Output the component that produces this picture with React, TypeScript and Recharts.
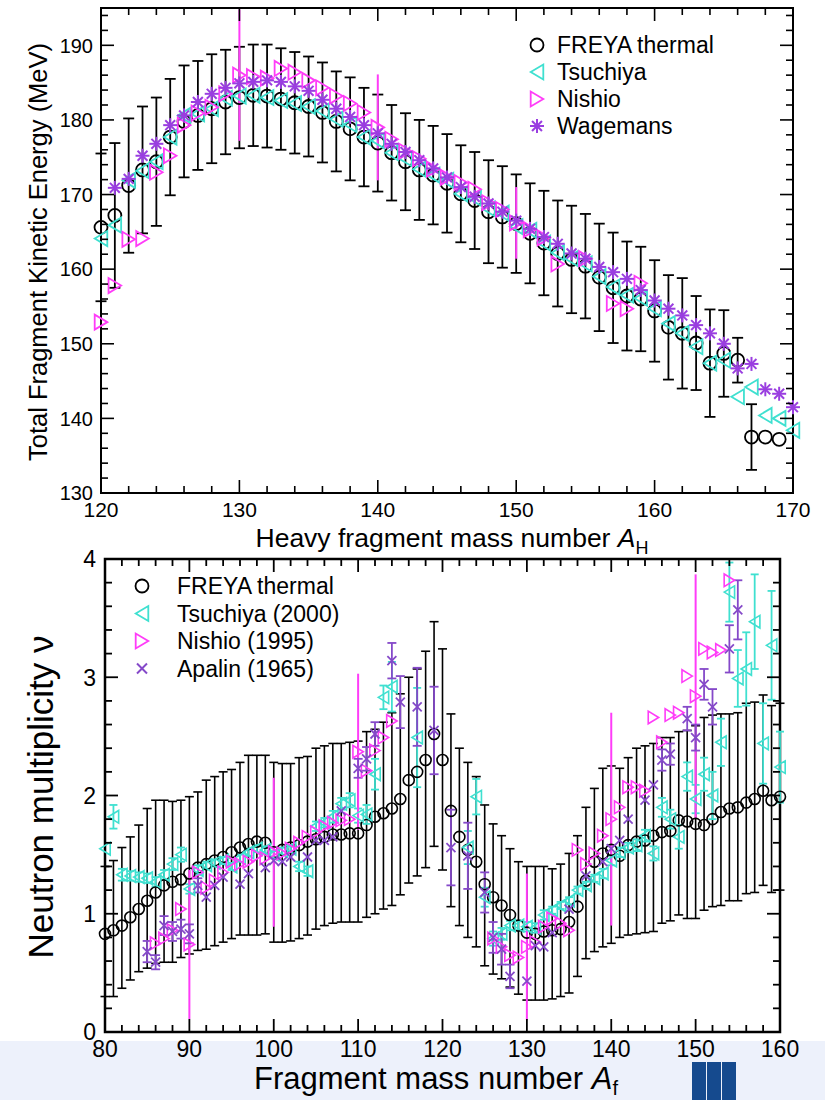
import React from "react";
import { ScatterChart, Scatter, XAxis, YAxis, ErrorBar, ReferenceArea } from "recharts";

const range = (from: number, to: number, step = 1) => {
  const out: number[] = [];
  for (let i = 0; from + i * step <= to + 1e-9; i++) out.push(+(from + i * step).toFixed(2));
  return out;
};

// ---------- top panel: total fragment kinetic energy vs heavy fragment mass ----------
const heavyMass = range(120, 169);
const freyaTke = [
  165.6, 167.2, 171.2, 173.3, 174.4, 177.7, 179.8, 180.6, 181.5, 182.4,
  183.0, 183.3, 183.2, 182.8, 182.3, 181.8, 181.0, 179.8, 178.8, 177.7,
  176.9, 175.6, 174.4, 173.3, 172.6, 171.5, 170.1, 169.2, 167.7, 167.0,
  166.1, 164.8, 163.5, 162.1, 161.3, 160.4, 158.9, 157.5, 156.4, 156.0,
  154.4, 152.2, 151.4, 150.1, 147.4, 148.7, 147.8, 137.5, 137.5, 137.2,
];
const freyaTkeErr = [
  9.9, 9.7, 9.0, 8.5, 8.6, 7.8, 7.5, 7.3, 7.3, 7.0,
  6.8, 6.8, 6.9, 6.8, 6.8, 6.7, 6.7, 6.7, 6.9, 6.6,
  6.5, 6.4, 6.5, 6.7, 6.6, 6.6, 6.5, 6.5, 6.9, 6.8,
  6.6, 6.7, 7.0, 7.1, 7.2, 7.0, 7.2, 7.4, 7.3, 7.0,
  6.8, 7.0, 7.4, 6.3, 7.2, 5.8, 3.0, 4.4, 0, 0,
];

const tsuchiyaTkeMass = range(120, 170);
const tsuchiyaTke = [
  164.1, 165.9, 171.9, 173.2, 174.4, 177.7, 180.6, 180.8, 181.5, 182.9,
  183.2, 183.3, 183.0, 182.6, 182.2, 181.8, 181.2, 180.1, 179.4, 177.7,
  177.2, 175.6, 174.8, 173.4, 172.6, 171.9, 170.1, 169.5, 168.1, 167.5,
  165.7, 165.2, 163.5, 162.2, 161.4, 160.7, 159.0, 157.6, 156.5, 156.1,
  154.7, 152.7, 151.4, 149.6, 147.4, 147.8, 142.9, 144.2, 140.4, 140.0,
  138.4,
];

const nishioTkeMass = [...range(120, 153), 155, 157, 158, 159];
const nishioTke = [
  152.9, 157.8, 164.0, 164.1, 173.0, 175.2, 179.3, 180.9, 181.7, 183.5,
  186.0, 185.8, 185.6, 186.9, 186.4, 185.3, 184.3, 183.2, 182.2, 181.0,
  179.0, 177.4, 175.8, 174.8, 173.4, 172.3, 171.6, 170.7, 168.9, 168.0,
  166.2, 165.3, 164.2, 160.7, 161.4, 155.4, 154.7, 158.1,
];
const nishioTkeBarMass = [130, 140, 150];
const nishioTkeBarErr = [8.8, 7.1, 4.8];

const wagemansTkeMass = range(121, 170);
const wagemansTke = [
  170.9, 172.1, 175.2, 176.8, 179.3, 180.6, 182.4, 183.5, 184.3,
  184.9, 185.1, 185.3, 185.1, 184.5, 183.9, 182.7, 181.5, 180.4, 179.3,
  178.2, 176.8, 175.7, 174.6, 173.5, 172.3, 171.0, 169.7, 168.8, 167.7,
  166.5, 165.4, 164.3, 163.4, 162.1, 161.4, 160.3, 159.6, 158.7, 157.2,
  155.8, 154.7, 153.8, 152.5, 151.4, 150.0, 146.7, 147.3, 143.9, 143.3,
  141.5,
];

const topXTicks = range(120, 170, 2);
const topYTicks = range(130, 194, 2);
const topLegend = ["FREYA thermal", "Tsuchiya", "Nishio", "Wagemans"];

// ---------- bottom panel: neutron multiplicity vs fragment mass ----------
const fragMass = range(80, 160);
const freyaNu = [
  0.83, 0.86, 0.90, 0.97, 1.04, 1.11, 1.18, 1.24, 1.27, 1.29,
  1.34, 1.39, 1.42, 1.45, 1.48, 1.52, 1.56, 1.59, 1.61, 1.60,
  1.52, 1.54, 1.56, 1.58, 1.61, 1.63, 1.65, 1.67, 1.67, 1.68,
  1.68, 1.75, 1.82, 1.85, 1.89, 1.97, 2.13, 2.20, 2.30, 2.52,
  2.30, 1.87, 1.65, 1.54, 1.44, 1.25, 1.14, 1.07, 0.99, 0.90,
  0.84, 0.83, 0.85, 0.86, 0.87, 0.93, 1.06, 1.28, 1.44, 1.51,
  1.54, 1.49, 1.58, 1.61, 1.62, 1.66, 1.69, 1.70, 1.79, 1.78,
  1.76, 1.75, 1.80, 1.86, 1.89, 1.90, 1.94, 1.97, 2.04, 1.96,
  1.99,
];
const freyaNuHi = [
  1.40, 1.45, 1.56, 1.65, 1.75, 1.89, 1.96, 1.96, 1.95, 1.96,
  1.99, 2.03, 2.13, 2.16, 2.20, 2.22, 2.28, 2.34, 2.34, 2.34,
  2.28, 2.27, 2.27, 2.32, 2.33, 2.40, 2.42, 2.44, 2.44, 2.45,
  2.46, 2.54, 2.56, 2.62, 2.70, 2.86, 3.00, 3.07, 3.22, 3.47,
  3.24, 2.69, 2.40, 2.28, 2.16, 1.92, 1.76, 1.66, 1.55, 1.44,
  1.40, 1.40, 1.40, 1.38, 1.42, 1.51, 1.66, 1.90, 2.06, 2.23,
  2.25, 2.23, 2.32, 2.40, 2.42, 2.44, 2.49, 2.49, 2.54, 2.55,
  2.59, 2.66, 2.68, 2.69, 2.69, 2.70, 2.78, 2.79, 2.85, 2.76,
  2.78,
];
const freyaNuLo = [
  0.30, 0.30, 0.37, 0.44, 0.51, 0.54, 0.58, 0.59, 0.59, 0.63,
  0.66, 0.69, 0.70, 0.73, 0.76, 0.79, 0.82, 0.82, 0.82, 0.83,
  0.76, 0.76, 0.77, 0.79, 0.82, 0.87, 0.90, 0.92, 0.93, 0.93,
  0.93, 0.97, 1.00, 1.04, 1.07, 1.16, 1.26, 1.32, 1.39, 1.57,
  1.37, 1.06, 0.90, 0.80, 0.72, 0.56, 0.49, 0.45, 0.38, 0.32,
  0.27, 0.27, 0.27, 0.28, 0.30, 0.33, 0.47, 0.62, 0.68, 0.72,
  0.75, 0.80, 0.82, 0.83, 0.84, 0.85, 0.92, 0.94, 0.99, 0.96,
  0.96, 1.03, 1.06, 1.07, 1.11, 1.11, 1.17, 1.18, 1.24, 1.18,
  1.20,
];

const tsuchiyaNuMass = [...range(80, 114), 117, ...range(123, 160)];
const tsuchiyaNu = [
  1.55, 1.82, 1.33, 1.32, 1.31, 1.30, 1.27, 1.33, 1.42, 1.50,
  1.21, 1.37, 1.41, 1.43, 1.45, 1.40, 1.47, 1.52, 1.55, 1.54,
  1.50, 1.53, 1.55, 1.40, 1.36, 1.74, 1.77, 1.82, 1.93, 1.96,
  1.83, 1.84, 2.18, 2.83, 2.92,
  2.49,
  1.56, 1.99, 1.14, 0.79, 0.83, 0.90, 0.90,
  0.89, 0.88, 0.99, 1.03, 1.07, 1.11, 1.20, 1.24, 1.30, 1.34,
  1.45, 1.52, 1.56, 1.58, 1.66, 1.51, 1.90, 1.80, 1.65, 2.16,
  1.97, 2.18, 2.00, 2.45, 3.72, 2.99, 3.07, 3.47, 2.44, 3.27,
  2.24,
];
const tsuchiyaNuErr = [
  0, 0.10, 0.05, 0.04, 0.04, 0.04, 0.04, 0.04, 0.05, 0.06,
  0.04, 0.04, 0.03, 0.03, 0.03, 0.03, 0.03, 0.03, 0.03, 0.03,
  0.03, 0.03, 0.03, 0.04, 0.04, 0.04, 0.04, 0.05, 0.05, 0.06,
  0.06, 0.08, 0.13, 0.10, 0.21,
  0.42,
  0.14, 0.15, 0.08, 0.06, 0.05, 0.04, 0.04,
  0.04, 0.04, 0.04, 0.03, 0.03, 0.03, 0.03, 0.03, 0.03, 0.04,
  0.04, 0.04, 0.04, 0.05, 0.05, 0.06, 0.08, 0.08, 0.10, 0.12,
  0.12, 0.14, 0.20, 0.20, 0.25, 0.24, 0.31, 0.40, 0.34, 0.46,
  0.30,
];

const nishioNuMass = [...range(86, 114), ...range(126, 154)];
const nishioNu = [
  0.75, 0.79, 0.86, 1.04,
  0.74, 1.35, 1.22, 1.28, 1.35, 1.44, 1.42, 1.44, 1.49, 1.47,
  1.52, 1.51, 1.55, 1.60, 1.65, 1.69, 1.74, 1.77, 1.79, 1.80,
  2.37, 2.21, 2.38, 2.49, 2.63,
  0.79, 0.72, 0.65, 0.63,
  0.72, 0.76, 0.89, 0.96, 0.92, 0.86, 1.54, 1.42, 1.51, 1.66,
  1.80, 1.90, 2.07, 2.07, 2.04, 2.66, 2.45, 2.68, 2.70, 3.01,
  2.84, 3.24, 3.21, 3.23, 3.82,
];
const nishioNuBarMass = [90, 100, 110, 130, 140, 150];
const nishioNuBarErr = [0.63, 0.63, 0.66, 0.62, 0.9, 1.03];

const apalinNuMass = [
  85, 86, 87, 88, 89, 90, 91, 92, 93, 94, 96, 97, 99, 100, 101, 102, 104, 105, 106, 107,
  108, 110, 111, 112, 114, 115, 117, 119, 121, 123, 125, 126, 127, 128, 130, 131, 132, 133,
  135, 137, 139, 140, 141, 142, 144, 145, 146, 147, 149, 150, 151, 152, 154, 155,
];
const apalinNu = [
  0.68, 0.59, 0.90, 0.85, 0.87, 0.83, 1.24, 1.14, 1.24, 1.31, 1.25, 1.34, 1.39, 1.45, 1.44, 1.48, 1.48, 1.62, 1.62, 1.65,
  1.87, 2.23, 2.31, 2.52, 3.14, 2.79, 2.75, 2.55, 1.56, 1.49, 1.18, 0.80, 0.70, 0.47, 0.43, 0.73, 0.72, 0.84,
  1.04, 1.32, 1.44, 1.55, 1.62, 1.80, 1.96, 2.09, 2.30, 2.35, 2.65, 2.49, 2.94, 2.75, 3.24, 3.57,
];
const apalinNuErr = [
  0.09, 0.06, 0.08, 0.08, 0.08, 0.08, 0.06, 0, 0, 0, 0, 0, 0, 0, 0, 0, 0, 0, 0, 0,
  0, 0.08, 0.10, 0.10, 0.15, 0.22, 0.33, 0.37, 0.32, 0.28, 0.17, 0.13, 0.13, 0.10, 0, 0, 0, 0,
  0, 0, 0, 0, 0, 0, 0, 0, 0.09, 0.09, 0.10, 0.11, 0.13, 0.15, 0.20, 0.25,
];

const botXTicks = range(80, 160, 2);
const botYTicks = range(0, 4, 0.2);
const botLegend = ["FREYA thermal", "Tsuchiya (2000)", "Nishio (1995)", "Apalin (1965)"];

// ---------- styling ----------
const FONT = "'Liberation Sans', Arial, Helvetica, sans-serif";
const CYAN = "#3fe0d0";
const MAGENTA = "#ff3cf8";
const PURPLE_W = "#9a3ee0";
const PURPLE_A = "#8549c9";

const Ring = (r: number, sw: number) => (p: any) => (
  <circle cx={p.cx} cy={p.cy} r={r} fill="none" stroke="#000" strokeWidth={sw} />
);
const Tri = (hw: number, hh: number, dir: number, c: string, sw: number) => (p: any) => {
  const tip = p.cx - dir * hw;
  const back = p.cx + dir * hw;
  return (
    <polygon
      points={`${tip},${p.cy} ${back},${p.cy - hh} ${back},${p.cy + hh}`}
      fill="none"
      stroke={c}
      strokeWidth={sw}
    />
  );
};
const Star = (r: number, c: string, sw: number) => (p: any) => {
  const d = r * 0.7071;
  return (
    <g stroke={c} strokeWidth={sw}>
      <line x1={p.cx - r} y1={p.cy} x2={p.cx + r} y2={p.cy} />
      <line x1={p.cx} y1={p.cy - r} x2={p.cx} y2={p.cy + r} />
      <line x1={p.cx - d} y1={p.cy - d} x2={p.cx + d} y2={p.cy + d} />
      <line x1={p.cx - d} y1={p.cy + d} x2={p.cx + d} y2={p.cy - d} />
    </g>
  );
};
const Cross = (r: number, c: string, sw: number) => (p: any) => (
  <g stroke={c} strokeWidth={sw}>
    <line x1={p.cx - r} y1={p.cy - r} x2={p.cx + r} y2={p.cy + r} />
    <line x1={p.cx - r} y1={p.cy + r} x2={p.cx + r} y2={p.cy - r} />
  </g>
);

type TickOpts = {
  span: number; // plot height (x ticks) or width (y ticks), to mirror ticks on the far side
  fs: number;
  off: number;
  major: (v: number) => boolean;
  len: [number, number];
  sw: number;
};

const XTick = (o: TickOpts) => (p: any) => {
  const v = p.payload.value;
  const m = o.major(v);
  const len = m ? o.len[0] : o.len[1];
  return (
    <g>
      <line x1={p.x} y1={p.y} x2={p.x} y2={p.y - len} stroke="#000" strokeWidth={o.sw} />
      <line x1={p.x} y1={p.y - o.span} x2={p.x} y2={p.y - o.span + len} stroke="#000" strokeWidth={o.sw} />
      {m && (
        <text x={p.x} y={p.y + o.off} textAnchor="middle" fontSize={o.fs} fontFamily={FONT} fill="#000">
          {v}
        </text>
      )}
    </g>
  );
};

const YTick = (o: TickOpts) => (p: any) => {
  const v = p.payload.value;
  const m = o.major(v);
  const len = m ? o.len[0] : o.len[1];
  return (
    <g>
      <line x1={p.x} y1={p.y} x2={p.x + len} y2={p.y} stroke="#000" strokeWidth={o.sw} />
      <line x1={p.x + o.span} y1={p.y} x2={p.x + o.span - len} y2={p.y} stroke="#000" strokeWidth={o.sw} />
      {m && (
        <text x={p.x - o.off} y={p.y} dy="0.36em" textAnchor="end" fontSize={o.fs} fontFamily={FONT} fill="#000">
          {v}
        </text>
      )}
    </g>
  );
};

const withBars = (mass: number[], vals: number[], barMass: number[], barErr: number[]) =>
  mass.map((x, i) => ({ x, y: vals[i], e: barErr[barMass.indexOf(x)] ?? 0 }));

export default function App() {
  // top panel series
  const tFreya = heavyMass.map((x, i) => ({ x, y: freyaTke[i], e: freyaTkeErr[i] }));
  const tTsu = tsuchiyaTkeMass.map((x, i) => ({ x, y: tsuchiyaTke[i] }));
  const tNis = withBars(nishioTkeMass, nishioTke, nishioTkeBarMass, nishioTkeBarErr);
  const tWag = wagemansTkeMass.map((x, i) => ({ x, y: wagemansTke[i] }));

  // bottom panel series
  const bFreya = fragMass.map((x, i) => ({
    x,
    y: freyaNu[i],
    e: [+(freyaNu[i] - freyaNuLo[i]).toFixed(3), +(freyaNuHi[i] - freyaNu[i]).toFixed(3)],
  }));
  const bTsu = tsuchiyaNuMass.map((x, i) => ({ x, y: tsuchiyaNu[i], e: tsuchiyaNuErr[i] }));
  const bNis = withBars(nishioNuMass, nishioNu, nishioNuBarMass, nishioNuBarErr);
  const bApa = apalinNuMass.map((x, i) => ({ x, y: apalinNu[i], e: apalinNuErr[i] }));

  const topLegendShapes = [Ring(6.5, 1.8), Tri(6.3, 7.5, 1, CYAN, 1.8), Tri(6.3, 7.5, -1, MAGENTA, 1.8), Star(7, PURPLE_W, 2)];
  const botLegendShapes = [Ring(6.5, 1.8), Tri(6.3, 7.5, 1, CYAN, 1.8), Tri(6.3, 7.5, -1, MAGENTA, 1.8), Cross(5, PURPLE_A, 2)];

  return (
    <div style={{ position: "relative", width: 825, height: 1100, background: "#fff", fontFamily: FONT, overflow: "hidden" }}>
      <style>{"body{margin:0}"}</style>
      {/* slide footer band and logo */}
      <div style={{ position: "absolute", left: 0, top: 1041, width: 825, height: 59, background: "#edf1fb" }} />
      {[692, 707, 722].map((l) => (
        <div key={l} style={{ position: "absolute", left: l, top: 1062, width: 14, height: 38, background: "#154a8e" }} />
      ))}

      {/* top panel */}
      <div style={{ position: "absolute", left: 0, top: 0 }}>
        <ScatterChart width={825} height={550} margin={{ top: 8, right: 32, bottom: 0, left: 0 }}>
          <XAxis
            type="number"
            dataKey="x"
            domain={[120, 170]}
            ticks={topXTicks}
            interval={0}
            height={57}
            axisLine={false}
            tickLine={false}
            tickSize={0}
            tickMargin={0}
            tick={XTick({ span: 485, fs: 21, off: 24, major: (v) => v % 10 === 0, len: [13, 7], sw: 1.6 })}
          />
          <YAxis
            type="number"
            dataKey="y"
            domain={[130, 195]}
            ticks={topYTicks}
            interval={0}
            width={101}
            axisLine={false}
            tickLine={false}
            tickSize={0}
            tickMargin={0}
            tick={YTick({ span: 692, fs: 20, off: 8, major: (v) => v % 10 === 0, len: [13, 7], sw: 1.6 })}
          />
          <ReferenceArea x1={120} x2={170} y1={130} y2={195} fill="none" fillOpacity={0} stroke="#000" strokeWidth={2} />
          <Scatter data={tFreya} shape={Ring(6.5, 1.8)} isAnimationActive={false}>
            <ErrorBar dataKey="e" direction="y" width={5.5} stroke="#000" strokeWidth={1.8} isAnimationActive={false} />
          </Scatter>
          <Scatter data={tTsu} shape={Tri(6.3, 7.5, 1, CYAN, 1.8)} isAnimationActive={false} />
          <Scatter data={tNis} shape={Tri(6.3, 7.5, -1, MAGENTA, 1.8)} isAnimationActive={false}>
            <ErrorBar dataKey="e" direction="y" width={0} stroke={MAGENTA} strokeWidth={2} isAnimationActive={false} />
          </Scatter>
          <Scatter data={tWag} shape={Star(7, PURPLE_W, 2)} isAnimationActive={false} />
        </ScatterChart>
      </div>

      {/* bottom panel */}
      <div style={{ position: "absolute", left: 0, top: 540 }}>
        <ScatterChart width={825} height={560} margin={{ top: 19, right: 45, bottom: 0, left: 0 }}>
          <XAxis
            type="number"
            dataKey="x"
            domain={[80, 160]}
            ticks={botXTicks}
            interval={0}
            height={68}
            axisLine={false}
            tickLine={false}
            tickSize={0}
            tickMargin={0}
            tick={XTick({ span: 473, fs: 23, off: 25, major: (v) => v % 10 === 0, len: [13, 7], sw: 1.8 })}
          />
          <YAxis
            type="number"
            dataKey="y"
            domain={[0, 4]}
            ticks={botYTicks}
            interval={0}
            width={105}
            axisLine={false}
            tickLine={false}
            tickSize={0}
            tickMargin={0}
            tick={YTick({
              span: 675,
              fs: 23,
              off: 9,
              major: (v) => Math.abs(v - Math.round(v)) < 1e-6,
              len: [13, 7],
              sw: 1.8,
            })}
          />
          <ReferenceArea x1={80} x2={160} y1={0} y2={4} fill="none" fillOpacity={0} stroke="#000" strokeWidth={2.5} />
          <Scatter data={bFreya} shape={Ring(5.5, 1.6)} isAnimationActive={false}>
            <ErrorBar dataKey="e" direction="y" width={4.5} stroke="#000" strokeWidth={1.6} isAnimationActive={false} />
          </Scatter>
          <Scatter data={bTsu} shape={Tri(5.2, 6.3, 1, CYAN, 1.6)} isAnimationActive={false}>
            <ErrorBar dataKey="e" direction="y" width={4} stroke={CYAN} strokeWidth={1.8} isAnimationActive={false} />
          </Scatter>
          <Scatter data={bNis} shape={Tri(5.2, 6.3, -1, MAGENTA, 1.6)} isAnimationActive={false}>
            <ErrorBar dataKey="e" direction="y" width={0} stroke={MAGENTA} strokeWidth={2} isAnimationActive={false} />
          </Scatter>
          <Scatter data={bApa} shape={Cross(4.5, PURPLE_A, 1.8)} isAnimationActive={false}>
            <ErrorBar dataKey="e" direction="y" width={4.5} stroke={PURPLE_A} strokeWidth={1.8} isAnimationActive={false} />
          </Scatter>
        </ScatterChart>
      </div>

      {/* legends and axis titles */}
      <svg width={825} height={1100} style={{ position: "absolute", left: 0, top: 0, pointerEvents: "none" }} fontFamily={FONT}>
        {topLegend.map((name, i) => {
          const cy = 45 + i * 27;
          return (
            <g key={name}>
              {topLegendShapes[i]({ cx: 537, cy })}
              <text x={557} y={cy} dy="0.36em" fontSize={23}>
                {name}
              </text>
            </g>
          );
        })}
        {botLegend.map((name, i) => {
          const cy = 586 + i * 27.5;
          return (
            <g key={name}>
              {botLegendShapes[i]({ cx: 142, cy })}
              <text x={177} y={cy} dy="0.36em" fontSize={23}>
                {name}
              </text>
            </g>
          );
        })}

        <text x={452} y={547} textAnchor="middle" fontSize={26.5}>
          Heavy fragment mass number <tspan fontStyle="italic">A</tspan>
          <tspan fontSize={18} dy={7}>H</tspan>
        </text>
        <text x={47} y={252} textAnchor="middle" fontSize={25.5} transform="rotate(-90 47 252)">
          Total Fragment Kinetic Energy (MeV)
        </text>

        <text x={436} y={1089} textAnchor="middle" fontSize={31}>
          Fragment mass number <tspan fontStyle="italic">A</tspan>
          <tspan fontSize={20} dy={6}>f</tspan>
        </text>
        <text x={53} y={797} textAnchor="middle" fontSize={35} transform="rotate(-90 53 797)">
          Neutron multiplicity ν
        </text>
      </svg>
    </div>
  );
}
